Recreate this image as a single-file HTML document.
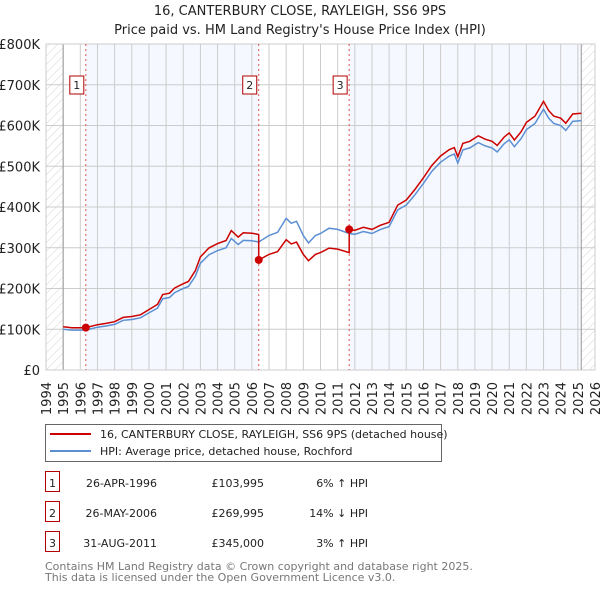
<!DOCTYPE html>
<html><head><meta charset="utf-8">
<style>
body{margin:0;background:#fff;font-family:"DejaVu Sans","Liberation Sans",sans-serif;}
svg text{font-family:"DejaVu Sans","Liberation Sans",sans-serif;}
</style></head>
<body>
<svg id="chart" width="600" height="590" viewBox="0 0 600 590" xmlns="http://www.w3.org/2000/svg">
<defs>
<pattern id="hatch" width="6" height="6" patternUnits="userSpaceOnUse" patternTransform="rotate(45)">
<line x1="0" y1="0" x2="0" y2="6" stroke="#d4d4d4" stroke-width="1"/>
</pattern>
</defs>
<text x="300" y="15" text-anchor="middle" font-size="13" fill="#222">16, CANTERBURY CLOSE, RAYLEIGH, SS6 9PS</text>
<text x="300" y="34" text-anchor="middle" font-size="13" fill="#222">Price paid vs. HM Land Registry's House Price Index (HPI)</text>
<g id="plot"></g>
<g id="legend">
<rect x="45.5" y="424.5" width="396" height="37" fill="#fff" stroke="#666"/>
<line x1="50" y1="434" x2="91" y2="434" stroke="#cc0000" stroke-width="2"/>
<text x="100" y="438" font-size="11" fill="#222">16, CANTERBURY CLOSE, RAYLEIGH, SS6 9PS (detached house)</text>
<line x1="50" y1="451" x2="91" y2="451" stroke="#5b8fd4" stroke-width="2"/>
<text x="100" y="455" font-size="11" fill="#222">HPI: Average price, detached house, Rochford</text>
</g>
<g id="table" font-size="11" fill="#222"></g>
<text x="45" y="570" font-size="11" fill="#777">Contains HM Land Registry data © Crown copyright and database right 2025.</text>
<text x="45" y="581" font-size="11" fill="#777">This data is licensed under the Open Government Licence v3.0.</text>
</svg>
<script>
const yearTicks=[1994,1995,1996,1997,1998,1999,2000,2001,2002,2003,2004,2005,2006,2007,2008,2009,2010,2011,2012,2013,2014,2015,2016,2017,2018,2019,2020,2021,2022,2023,2024,2025,2026];
const valueTicks=[0,100,200,300,400,500,600,700,800];
const valueLabels=["£0","£100K","£200K","£300K","£400K","£500K","£600K","£700K","£800K"];
const hpiDates=[1995.0,1995.5,1996.3,1997,1997.5,1998,1998.5,1999,1999.5,2000,2000.5,2000.8,2001.2,2001.5,2002,2002.3,2002.7,2003,2003.5,2004,2004.5,2004.8,2005.2,2005.5,2006,2006.4,2007,2007.5,2008,2008.3,2008.6,2009,2009.3,2009.7,2010,2010.5,2011,2011.67,2012,2012.5,2013,2013.5,2014,2014.5,2015,2015.5,2016,2016.5,2017,2017.5,2017.8,2018,2018.3,2018.7,2019.2,2019.6,2020,2020.3,2020.7,2021,2021.3,2021.7,2022,2022.5,2023,2023.3,2023.6,2024,2024.3,2024.7,2025.2];
const hpiValues=[100,98,98,105,108,112,122,124,128,140,152,175,178,190,200,205,230,262,283,293,300,323,308,318,317,314,330,338,372,360,365,330,312,330,335,348,345,335,333,340,335,345,352,393,405,430,458,488,510,525,530,508,540,545,558,550,545,535,555,565,548,568,590,605,640,618,605,600,588,610,612];
const saleDates=[1996.32,2006.4,2011.67];
const salePrices=[103.995,269.995,345.0];
const saleLabels=["1","2","3"];
const saleDateText=["26-APR-1996","26-MAY-2006","31-AUG-2011"];
const salePriceText=["£103,995","£269,995","£345,000"];
const saleHpiText=["6% ↑ HPI","14% ↓ HPI","3% ↑ HPI"];

const X0=46,X1=595,Y0=370,Y1=44;
const xs=y=>X0+(y-1994)/(2026-1994)*(X1-X0);
const ys=v=>Y0-v/800*(Y0-Y1);
const NS="http://www.w3.org/2000/svg";
const plot=document.getElementById('plot');
function mk(tag,attrs,parent){const e=document.createElementNS(NS,tag);for(const k in attrs)e.setAttribute(k,attrs[k]);(parent||plot).appendChild(e);return e;}
function hpiAt(t){for(let i=0;i<hpiDates.length-1;i++){if(t<=hpiDates[i+1]){const f=(t-hpiDates[i])/(hpiDates[i+1]-hpiDates[i]);return hpiValues[i]+f*(hpiValues[i+1]-hpiValues[i]);}}return hpiValues[hpiValues.length-1];}

let bg=mk('rect',{x:X0,y:Y1,width:X1-X0,height:Y0-Y1,fill:'#fff'});


let s1=mk('rect',{x:xs(saleDates[0]),y:Y1,width:xs(saleDates[1])-xs(saleDates[0]),height:Y0-Y1,fill:'#f5f8fe'});


let s2=mk('rect',{x:xs(saleDates[2]),y:Y1,width:xs(2025.2)-xs(saleDates[2]),height:Y0-Y1,fill:'#f5f8fe'});


let h1=mk('rect',{x:X0,y:Y1,width:xs(1995)-X0,height:Y0-Y1,fill:'url(#hatch)'});


let h2=mk('rect',{x:xs(2025.2),y:Y1,width:X1-xs(2025.2),height:Y0-Y1,fill:'url(#hatch)'});


yearTicks.forEach(y=>{const l=mk('line',{x1:xs(y),x2:xs(y),y1:Y1,y2:Y0,stroke:'#ccc','stroke-width':1});


const t=mk('text',{x:0,y:0,'font-size':13,fill:'#222','text-anchor':'end',transform:`translate(${xs(y)+5},382) rotate(-90)`});t.textContent=y;

});
valueTicks.forEach((v,i)=>{const l=mk('line',{x1:X0,x2:X1,y1:ys(v),y2:ys(v),stroke:'#ccc','stroke-width':1});


const t=mk('text',{x:40,y:ys(v)+5,'font-size':13,fill:'#222','text-anchor':'end'});t.textContent=valueLabels[i];

});
[xs(1995),xs(2025.2)].forEach(x=>{const l=mk('line',{x1:x,x2:x,y1:Y1,y2:Y0,stroke:'#999','stroke-width':1});

});
let fr=mk('rect',{x:X0,y:Y1,width:X1-X0,height:Y0-Y1,fill:'none',stroke:'#ccc'});


saleDates.forEach((d,i)=>{const l=mk('line',{x1:xs(d),x2:xs(d),y1:Y1,y2:Y0,stroke:'#e05050','stroke-width':1,'stroke-dasharray':'2,3'});


const r=mk('rect',{x:xs(d)-16,y:76,width:14,height:18,fill:'#fff',stroke:'#b00000'});


const t=mk('text',{x:xs(d)-9,y:89,'font-size':11,fill:'#222','text-anchor':'middle'});t.textContent=saleLabels[i];

});
let hp=hpiDates.map((d,i)=>`${xs(d).toFixed(1)},${ys(hpiValues[i]).toFixed(1)}`).join(' ');
let hl=mk('polyline',{points:hp,fill:'none',stroke:'#5b8fd4','stroke-width':1.5});


const factors=saleDates.map((d,i)=>salePrices[i]/hpiAt(d));
function factorAt(t){let f=factors[0];for(let i=0;i<saleDates.length;i++)if(t>=saleDates[i])f=factors[i];return f;}
let pts=[];
const allT=hpiDates.concat(saleDates).sort((a,b)=>a-b);
allT.forEach(t=>{saleDates.forEach((d,i)=>{if(t===d&&i>0)pts.push([t,hpiAt(t)*factors[i-1]]);});pts.push([t,hpiAt(t)*factorAt(t)]);});
let pl=mk('polyline',{points:pts.map(p=>`${xs(p[0]).toFixed(1)},${ys(p[1]).toFixed(1)}`).join(' '),fill:'none',stroke:'#cc0000','stroke-width':1.5});


saleDates.forEach((d,i)=>{const c=mk('circle',{cx:xs(d),cy:ys(salePrices[i]),r:4,fill:'#cc0000'});

});
const tbl=document.getElementById('table');
saleLabels.forEach((s,i)=>{const y=483+i*30;
const r=mk('rect',{x:45.5,y:y-11.5,width:14,height:20,fill:'#fff',stroke:'#b00000'},tbl);


const a=mk('text',{x:52.5,y:y+4,'text-anchor':'middle'},tbl);a.textContent=s;


const b=mk('text',{x:157,y:y+4,'text-anchor':'end'},tbl);b.textContent=saleDateText[i];


const c=mk('text',{x:264,y:y+4,'text-anchor':'end'},tbl);c.textContent=salePriceText[i];


const e=mk('text',{x:368,y:y+4,'text-anchor':'end'},tbl);e.textContent=saleHpiText[i];

});
</script>
</body></html>
